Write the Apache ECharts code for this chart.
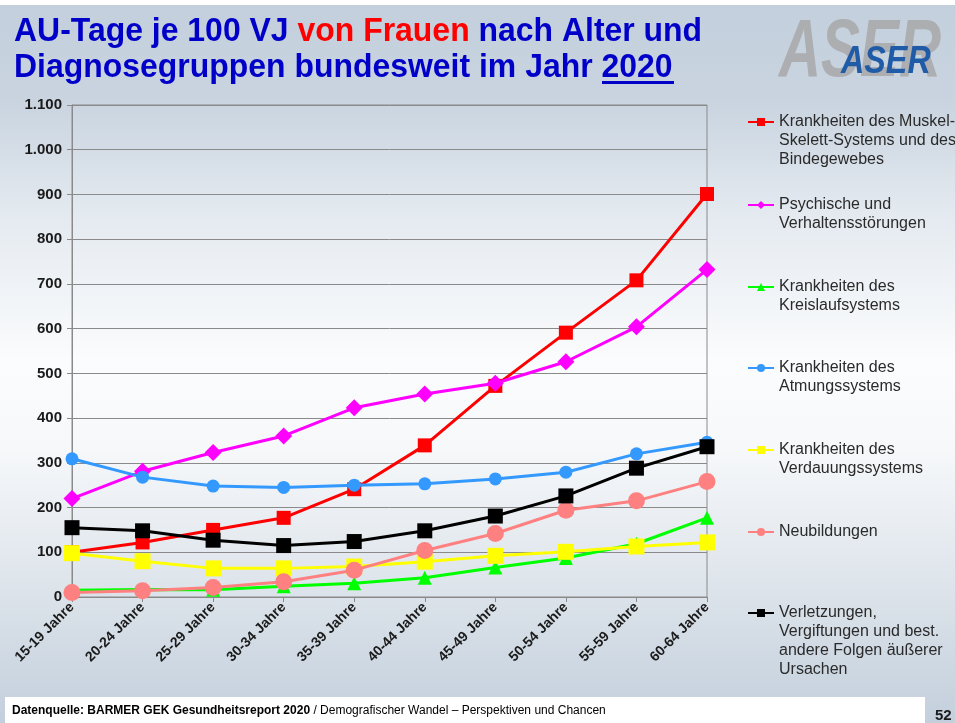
<!DOCTYPE html>
<html>
<head>
<meta charset="utf-8">
<script src="https://cdn.jsdelivr.net/npm/echarts@6/dist/echarts.min.js"></script>
<style>
  html, body { margin: 0; padding: 0; background: #ffffff; }
  #chart { width: 955px; height: 723px; }
</style>
</head>
<body>
<div id="chart"></div>
<script>
// Altersgruppen (x-Achse)
var ageGroups = ['15-19 Jahre', '20-24 Jahre', '25-29 Jahre', '30-34 Jahre', '35-39 Jahre',
                 '40-44 Jahre', '45-49 Jahre', '50-54 Jahre', '55-59 Jahre', '60-64 Jahre'];

// AU-Tage je 100 Versicherungsjahre, Frauen, nach Diagnosegruppe
var muskelSkelett   = [100, 122, 150, 177, 241, 339, 472, 591, 708, 901];
var psychisch       = [220, 281, 323, 360, 423, 454, 478, 526, 604, 732];
var kreislauf       = [15, 17, 16, 24, 31, 43, 66, 87, 119, 177];
var atmung          = [309, 268, 248, 245, 250, 253, 264, 279, 320, 346];
var verdauung       = [98, 80, 64, 64, 68, 79, 92, 101, 113, 122];
var neubildungen    = [10, 14, 21, 34, 60, 104, 142, 194, 215, 258];
var verletzungen    = [155, 148, 127, 115, 124, 148, 181, 226, 288, 336];

// Legendentexte (mit Zeilenumbrüchen)
var legendLines = [
  ['Krankheiten des Muskel-', 'Skelett-Systems und des', 'Bindegewebes'],
  ['Psychische und', 'Verhaltensstörungen'],
  ['Krankheiten des', 'Kreislaufsystems'],
  ['Krankheiten des', 'Atmungssystems'],
  ['Krankheiten des', 'Verdauungssystems'],
  ['Neubildungen'],
  ['Verletzungen,', 'Vergiftungen und best.', 'andere Folgen äußerer', 'Ursachen']
];

// Y-Achse
var yMin = 0, yMax = 1100, yStep = 100;

var chart = echarts.init(document.getElementById('chart'), null, { renderer: 'canvas' });

var seriesDefs = [
  { data: muskelSkelett, color: '#ff0000', symbol: 'rect',     size: 14 },
  { data: psychisch,     color: '#ff00ff', symbol: 'diamond',  size: 17 },
  { data: kreislauf,     color: '#00ff00', symbol: 'triangle', size: 14 },
  { data: atmung,        color: '#3399ff', symbol: 'circle',   size: 13 },
  { data: verdauung,     color: '#ffff00', symbol: 'rect',     size: 16 },
  { data: neubildungen,  color: '#ff8080', symbol: 'circle',   size: 17 },
  { data: verletzungen,  color: '#000000', symbol: 'rect',     size: 15 }
];

var LH = 19;
var legendCenters = [122, 205, 287, 368, 450, 532, 613];

var series = seriesDefs.map(function (d, i) {
  return {
    name: legendLines[i].join(' '),
    type: 'line',
    data: d.data,
    symbol: d.symbol,
    symbolSize: d.size,
    showSymbol: true,
    lineStyle: { color: d.color, width: 3 },
    itemStyle: { color: d.color },
    z: 2 + i,
    animation: false
  };
});

// Jede Legende einzeln, damit das Symbol auf Höhe der ersten Textzeile steht:
// leere Zeilen davor zentrieren den Block auf die erste Zeile.
var legends = seriesDefs.map(function (d, i) {
  var n = legendLines[i].length;
  var H = (2 * n - 1) * LH;
  var pad = [];
  for (var k = 0; k < n - 1; k++) pad.push(' ');
  return {
    orient: 'vertical',
    left: 747,
    top: legendCenters[i] - H / 2,
    padding: 0,
    itemWidth: 26,
    itemHeight: 10,
    data: [series[i].name],
    selectedMode: false,
    formatter: function () { return pad.concat(legendLines[i]).join('\n'); },
    textStyle: {
      fontFamily: 'Liberation Sans, Arial, sans-serif',
      fontSize: 16,
      color: '#2a2a2a',
      lineHeight: LH
    }
  };
});

var titleFont = 'Liberation Sans, Arial, sans-serif';

var option = {
  backgroundColor: {
    type: 'linear', x: 0, y: 0, x2: 0, y2: 1,
    colorStops: [
      { offset: 0.0, color: '#c3cfdc' },
      { offset: 0.14, color: '#c9d4e0' },
      { offset: 0.30, color: '#e4eaf0' },
      { offset: 0.50, color: '#fbfcfd' },
      { offset: 0.62, color: '#f6f8fa' },
      { offset: 0.82, color: '#dce3ea' },
      { offset: 1.0, color: '#c3cfdc' }
    ]
  },
  animation: false,
  textStyle: { fontFamily: 'Liberation Sans, Arial, sans-serif' },
  grid: {
    left: 72, right: 248, top: 105, bottom: 126,
    show: true, borderColor: '#8a8a8a', borderWidth: 1,
    backgroundColor: 'transparent'
  },
  legend: legends,
  xAxis: {
    type: 'category',
    data: ageGroups,
    boundaryGap: false,
    axisLine: { lineStyle: { color: '#8a8a8a', width: 1 } },
    axisTick: { show: true, length: 5, lineStyle: { color: '#8a8a8a' } },
    axisLabel: {
      rotate: 45, margin: 8, interval: 0,
      fontSize: 14, fontWeight: 'bold', color: '#1a1a1a',
      fontFamily: 'Liberation Sans, Arial, sans-serif'
    },
    splitLine: { show: false }
  },
  yAxis: {
    type: 'value',
    min: yMin, max: yMax, interval: yStep,
    axisLine: { show: true, lineStyle: { color: '#8a8a8a', width: 1 } },
    axisTick: { show: true, length: 5, lineStyle: { color: '#8a8a8a' } },
    axisLabel: {
      margin: 10,
      fontSize: 15, fontWeight: 'bold', color: '#1a1a1a',
      fontFamily: 'Liberation Sans, Arial, sans-serif',
      formatter: function (v) { return v.toString().replace(/\B(?=(\d{3})+(?!\d))/g, '.'); }
    },
    splitLine: { show: true, lineStyle: { color: '#8a8a8a', width: 1 } }
  },
  series: series,
  graphic: [
    // heller Rand oben
    { type: 'rect', left: 0, top: 0, shape: { width: 955, height: 5 }, style: { fill: '#ffffff' }, z: -1 },
    // Logo
    {
      type: 'text', x: 779, y: 94, scaleX: 0.72, z: 1,
      style: {
        text: 'ASER', fill: 'rgba(165,165,165,0.8)',
        font: 'italic bold 81px Liberation Sans, Arial, sans-serif',
        textVerticalAlign: 'bottom'
      }
    },
    {
      type: 'text', x: 841, y: 82, scaleX: 0.85, z: 2,
      style: {
        text: 'ASER', fill: '#1f5ba6',
        font: 'italic bold 38px Liberation Sans, Arial, sans-serif',
        textVerticalAlign: 'bottom'
      }
    },
    // Titel
    {
      type: 'text', x: 14, y: 48, scaleX: 0.968, z: 3,
      style: {
        text: '{b|AU-Tage je 100 VJ }{r|von Frauen}{b| nach Alter und}',
        textVerticalAlign: 'bottom',
        rich: {
          b: { fill: '#0000c8', font: 'bold 33px ' + titleFont },
          r: { fill: '#ff0000', font: 'bold 33px ' + titleFont }
        }
      }
    },
    {
      type: 'text', x: 14, y: 84, scaleX: 0.968, z: 3,
      style: {
        text: 'Diagnosegruppen bundesweit im Jahr 2020',
        fill: '#0000c8', font: 'bold 33px ' + titleFont,
        textVerticalAlign: 'bottom'
      }
    },
    { type: 'rect', left: 602, top: 81, shape: { width: 72, height: 3 }, style: { fill: '#0000c8' }, z: 3 },
    // Fußzeile
    { type: 'rect', left: 5, top: 697, shape: { width: 920, height: 26 }, style: { fill: '#ffffff' }, z: 1 },
    {
      type: 'text', x: 12, y: 711, z: 2,
      style: {
        text: '{b|Datenquelle: BARMER GEK Gesundheitsreport 2020}{n| / Demografischer Wandel – Perspektiven und Chancen}',
        textVerticalAlign: 'middle',
        rich: {
          b: { fill: '#000000', font: 'bold 12px ' + titleFont },
          n: { fill: '#000000', font: '12px ' + titleFont }
        }
      }
    },
    {
      type: 'text', x: 935, y: 716, z: 2,
      style: { text: '52', fill: '#1a1a1a', font: 'bold 15px ' + titleFont, textVerticalAlign: 'middle' }
    }
  ]
};

chart.setOption(option);
</script>
</body>
</html>
